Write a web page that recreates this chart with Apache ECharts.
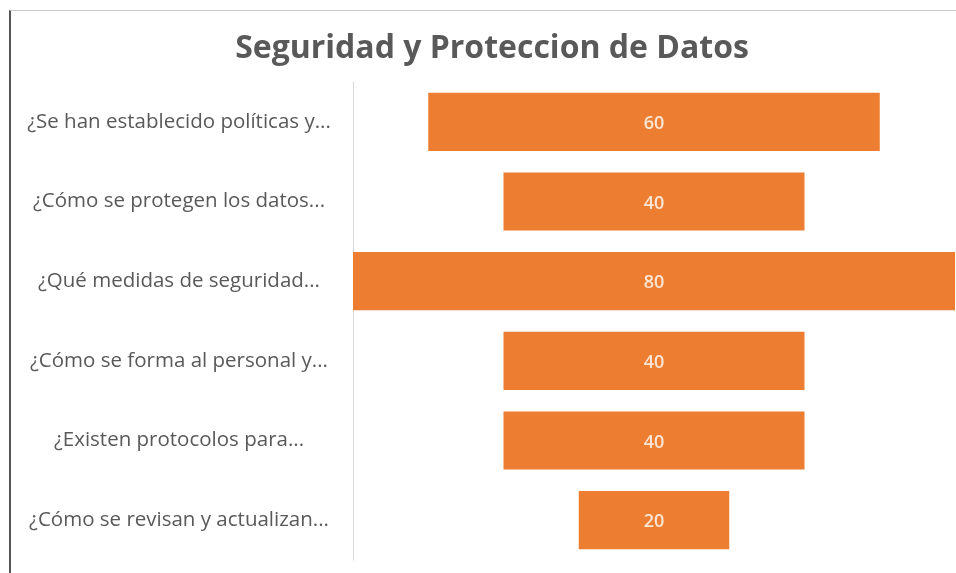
<!DOCTYPE html>
<html><head><meta charset="utf-8">
<script src="https://cdn.jsdelivr.net/npm/echarts@6/dist/echarts.min.js"></script>
<style>
html,body{margin:0;padding:0;background:#fff;}
#frame{position:absolute;left:9px;top:10px;width:947px;height:563px;border-left:2px solid #555;border-top:1px solid #c8c8c8;box-sizing:border-box;}
#chart{position:absolute;left:0;top:0;width:956px;height:573px;}
</style></head>
<body>
<div id="frame"></div>
<div id="chart"></div>
<script>
const titleText = 'Seguridad y Proteccion de Datos';
const categories = [
  '¿Se han establecido políticas y...',
  '¿Cómo se protegen los datos...',
  '¿Qué medidas de seguridad...',
  '¿Cómo se forma al personal y...',
  '¿Existen protocolos para...',
  '¿Cómo se revisan y actualizan...'
];
const values = [60, 40, 80, 40, 40, 20];
const maxValue = Math.max(...values);
const offsets = values.map(v => (maxValue - v) / 2);

const chart = echarts.init(document.getElementById('chart'), null, {renderer: 'canvas'});
chart.setOption({
  animation: false,
  backgroundColor: 'transparent',
  title: {
    text: titleText,
    left: 487, top: 28, textAlign: 'center',
    textStyle: {fontFamily: 'Open Sans', fontWeight: 'bold', fontSize: 32, color: '#595959'}
  },
  grid: {left: 353, right: 1, top: 82, bottom: 13, containLabel: false},
  xAxis: {type: 'value', min: 0, max: maxValue, show: false},
  yAxis: {
    type: 'category', data: categories, inverse: true,
    axisLine: {show: true, lineStyle: {color: '#d9d9d9', width: 1}},
    axisTick: {show: false},
    axisLabel: {align: 'center', margin: 174, fontFamily: 'Open Sans', fontSize: 20.5, color: '#595959'}
  },
  series: [
    {type: 'bar', stack: 'f', data: offsets, itemStyle: {color: 'transparent'}, barCategoryGap: '27%', silent: true},
    {type: 'bar', stack: 'f', data: values, barCategoryGap: '27%',
     itemStyle: {color: '#ED7D31'},
     label: {show: true, position: 'inside', offset: [0, 2], fontFamily: 'Open Sans', fontSize: 18, fontWeight: 600, color: '#fde6d3'}}
  ]
});
</script>
</body></html>
